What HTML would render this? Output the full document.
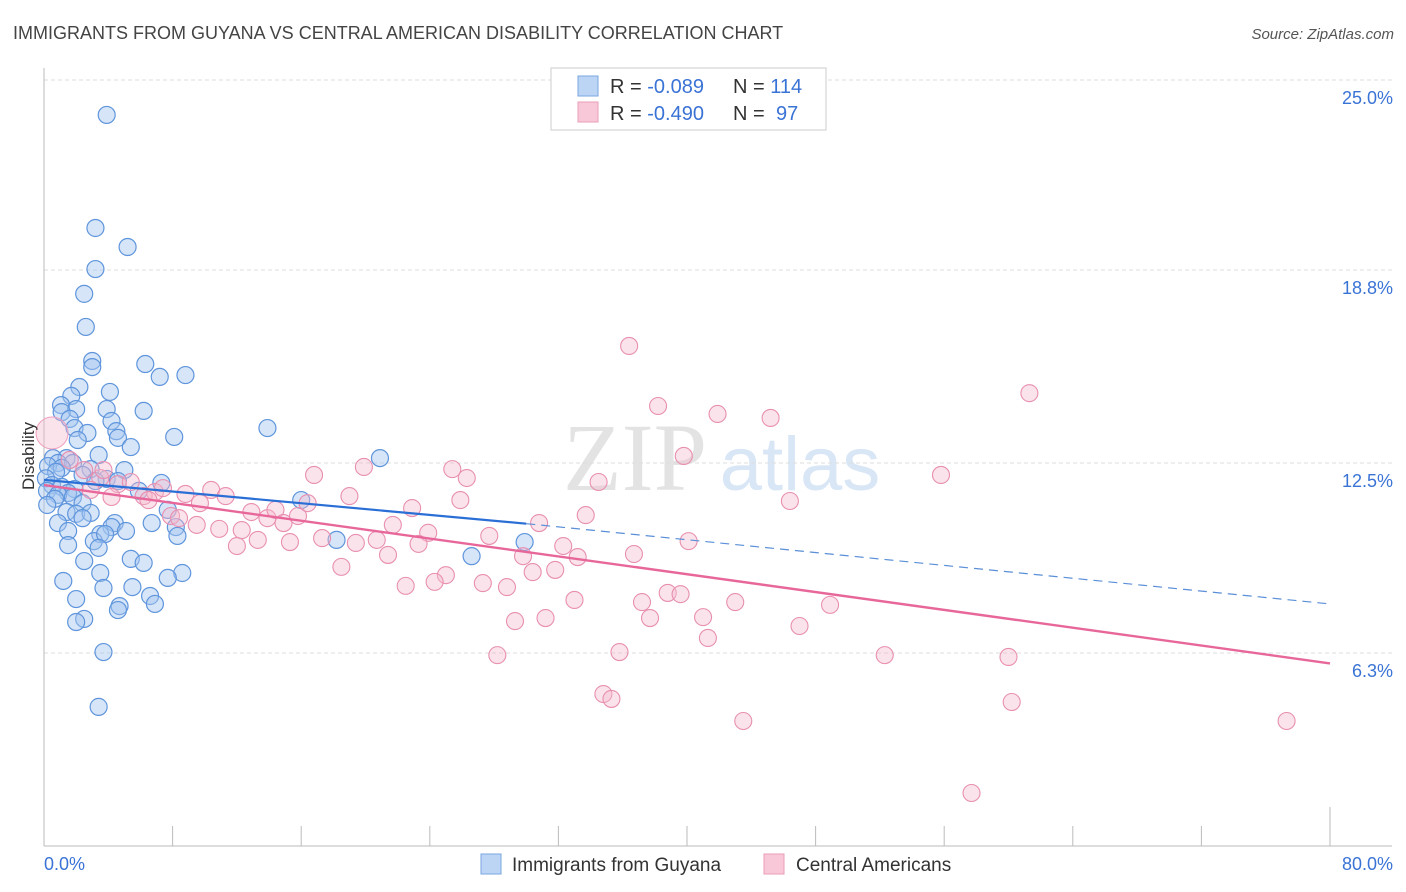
<!DOCTYPE html>
<html><head><meta charset="utf-8">
<style>
body{margin:0;background:#fff;font-family:"Liberation Sans",sans-serif;}
svg{display:block}
</style></head>
<body>
<svg id="chart" width="1406" height="892" viewBox="0 0 1406 892" xmlns="http://www.w3.org/2000/svg">
<text x="13" y="39" font-size="18" fill="#444" font-family="Liberation Sans,sans-serif">IMMIGRANTS FROM GUYANA VS CENTRAL AMERICAN DISABILITY CORRELATION CHART</text>
<text x="1394" y="39" font-size="15" fill="#555" text-anchor="end" font-style="italic">Source: ZipAtlas.com</text>
<g>
<text x="635" y="490" font-size="96" fill="#ddd" font-family="Liberation Serif,serif" text-anchor="middle" opacity="0.8">ZIP</text>
<text x="800" y="490" font-size="76" fill="#cfe0f5" text-anchor="middle" opacity="0.8">atlas</text>
</g>
<g id="grid"></g>
<g id="axes"></g>
<g id="marks"></g>
<g>
<rect x="551" y="68" width="275" height="62" fill="#fff" stroke="#ccc"/>
<rect x="578" y="76" width="20" height="20" fill="#bcd5f5" stroke="#7aa7e2"/>
<rect x="578" y="102" width="20" height="20" fill="#f9c8d8" stroke="#ea9cb8"/>
<g font-size="20" fill="#333">
<text x="610" y="93">R = <tspan fill="#3a73d6">-0.089</tspan></text>
<text x="733" y="93">N = <tspan fill="#3a73d6">114</tspan></text>
<text x="610" y="120">R = <tspan fill="#3a73d6">-0.490</tspan></text>
<text x="733" y="120">N = <tspan fill="#3a73d6" x="776">97</tspan></text>
</g>
</g>
<g>
<rect x="481" y="854" width="20" height="20" fill="#bcd5f5" stroke="#7aa7e2"/>
<text x="512" y="871" font-size="19" fill="#333">Immigrants from Guyana</text>
<rect x="764" y="854" width="20" height="20" fill="#f9c8d8" stroke="#ea9cb8"/>
<text x="796" y="871" font-size="19" fill="#333">Central Americans</text>
</g>
<text transform="translate(34,456) rotate(-90)" font-size="17" fill="#333" text-anchor="middle">Disability</text>
</svg>
<script>
const yTicks=[25.0,18.8,12.5,6.3];
const yTickLabels=["25.0%","18.8%","12.5%","6.3%"];
const xTicks=[0,8,16,24,32,40,48,56,64,72,80];
const guyanaX=[3.9,3.2,5.2,3.2,2.5,2.6,3.0,3.0,6.3,7.2,8.8,2.2,4.1,1.7,1.06,2.0,3.9,6.2,1.1,1.6,4.2,1.9,2.7,4.5,4.6,8.1,13.9,2.1,5.4,3.4,0.56,1.4,20.9,0.87,1.8,0.25,1.1,2.9,5.0,0.75,2.4,0.12,3.9,3.2,4.6,7.3,0.5,1.1,1.9,0.19,5.9,1.5,0.87,1.8,0.68,16.0,2.4,0.2,7.7,1.4,2.0,2.9,2.4,0.87,4.4,4.2,6.7,8.2,1.5,5.1,3.5,8.3,18.2,3.1,3.8,29.9,1.5,3.4,26.6,5.4,6.2,2.5,3.5,8.6,7.7,1.2,5.5,3.7,6.6,2.0,6.9,4.7,4.6,2.5,2.0,3.7,3.4];
const guyanaY=[23.86,20.17,19.55,18.83,18.02,16.94,15.83,15.63,15.73,15.31,15.37,14.98,14.82,14.69,14.39,14.26,14.26,14.2,14.16,13.94,13.87,13.64,13.48,13.54,13.32,13.35,13.64,13.25,13.02,12.76,12.66,12.66,12.66,12.5,12.5,12.4,12.34,12.3,12.27,12.21,12.11,12.0,11.98,11.91,11.91,11.85,11.78,11.72,11.65,11.59,11.59,11.52,11.46,11.39,11.33,11.29,11.19,11.13,10.97,10.9,10.84,10.87,10.7,10.54,10.54,10.41,10.54,10.41,10.28,10.28,10.18,10.12,9.99,9.95,10.18,9.92,9.82,9.73,9.46,9.37,9.24,9.3,8.91,8.91,8.75,8.65,8.45,8.42,8.16,8.06,7.9,7.83,7.7,7.41,7.31,6.33,4.54];
const centralX=[36.4,61.3,38.2,41.9,45.2,39.8,55.8,25.4,26.3,19.9,16.8,34.5,46.4,19.0,25.9,22.9,33.7,30.8,27.7,21.7,23.9,17.3,19.4,20.7,21.4,23.3,32.3,29.8,33.2,36.7,40.1,18.5,30.4,31.8,25.0,24.3,22.5,27.3,28.8,33.0,37.2,38.8,39.6,43.0,48.9,37.7,41.0,31.2,29.3,47.0,41.3,28.2,35.8,52.3,60.0,34.8,35.3,60.2,43.5,77.3,57.7,1.6,2.5,3.5,4.6,5.4,2.9,4.2,6.2,6.9,7.4,8.8,10.4,11.3,9.7,7.9,8.4,9.5,10.9,12.0,12.3,13.3,12.9,13.9,14.4,14.9,15.3,15.8,16.4,6.5,3.7];
const centralY=[16.32,14.78,14.36,14.1,13.97,12.73,12.11,12.3,12.01,12.37,12.11,11.88,11.26,11.42,11.29,11.03,10.8,10.54,10.12,10.48,10.22,10.05,9.89,9.99,9.5,9.86,9.79,9.46,9.43,9.53,9.95,9.11,8.94,9.01,8.84,8.62,8.49,8.58,8.45,8.03,7.96,8.26,8.22,7.96,7.87,7.44,7.47,7.44,7.34,7.18,6.79,6.23,6.33,6.23,6.17,4.96,4.8,4.7,4.08,4.08,1.73,12.6,12.27,12.01,11.81,11.88,11.62,11.39,11.42,11.55,11.68,11.49,11.62,11.42,11.19,10.77,10.7,10.48,10.35,9.79,10.31,9.99,10.9,10.7,10.97,10.54,9.92,10.77,11.19,11.29,12.27];
const guyanaTrend=[[0,11.95],[30,10.52],[80,7.9]];
const centralTrend=[[0,11.78],[80,5.96]];

const NS="http://www.w3.org/2000/svg";
const X=v=>44+v*16.075;
const Y=v=>846-v*30.64;
function mk(tag,attrs,parent){const e=document.createElementNS(NS,tag);for(const k in attrs)e.setAttribute(k,attrs[k]);parent.appendChild(e);return e;}
const grid=document.getElementById('grid'),axes=document.getElementById('axes'),marks=document.getElementById('marks');
yTicks.forEach((t,i)=>{
 const l=mk('line',{x1:44,x2:1392,y1:Y(t),y2:Y(t),stroke:'#ddd','stroke-dasharray':'4,3'},grid);
 
 
 const tx=mk('text',{x:1393,y:Y(t)+24,'font-size':18,fill:'#3a73d6','text-anchor':'end'},axes);
 tx.textContent=yTickLabels[i];
 
 
});
const ax=mk('line',{x1:44,x2:1392,y1:846,y2:846,stroke:'#bbb'},axes);


const ay=mk('line',{x1:44,x2:44,y1:68,y2:846,stroke:'#bbb'},axes);


xTicks.forEach((t,i)=>{
 const tk=mk('line',{x1:X(t),x2:X(t),y1:(i==xTicks.length-1?807:826),y2:846,stroke:'#bbb'},axes);
 
 
});
const xl0=mk('text',{x:44,y:870,'font-size':18,fill:'#3a73d6'},axes);xl0.textContent='0.0%';


const xl1=mk('text',{x:1393,y:870,'font-size':18,fill:'#3a73d6','text-anchor':'end'},axes);xl1.textContent='80.0%';



const gG=mk('g',{},marks);


guyanaX.forEach((x,i)=>{
 const c=mk('circle',{cx:X(x),cy:Y(guyanaY[i]),r:8.5,fill:'rgba(165,198,240,0.45)',stroke:'#5f95dc','stroke-width':1.2},gG);
 
 
});
const gC=mk('g',{},marks);


centralX.forEach((x,i)=>{
 const c=mk('circle',{cx:X(x),cy:Y(centralY[i]),r:8.5,fill:'rgba(246,185,205,0.4)',stroke:'#e88fb0','stroke-width':1.1},gC);
 
 
});
const big=mk('circle',{cx:X(0.5),cy:Y(13.48),r:16,fill:'rgba(246,185,205,0.4)',stroke:'#ef9fbf'},gC);



const t1=mk('line',{x1:X(guyanaTrend[0][0]),y1:Y(guyanaTrend[0][1]),x2:X(guyanaTrend[1][0]),y2:Y(guyanaTrend[1][1]),stroke:'#2a6fd6','stroke-width':2.2},marks);


const t2=mk('line',{x1:X(guyanaTrend[1][0]),y1:Y(guyanaTrend[1][1]),x2:X(guyanaTrend[2][0]),y2:Y(guyanaTrend[2][1]),stroke:'#5a8fd8','stroke-width':1.2,'stroke-dasharray':'9,6'},marks);


const t3=mk('line',{x1:X(centralTrend[0][0]),y1:Y(centralTrend[0][1]),x2:X(centralTrend[1][0]),y2:Y(centralTrend[1][1]),stroke:'#e8679a','stroke-width':2.4},marks);


</script>
</body></html>
